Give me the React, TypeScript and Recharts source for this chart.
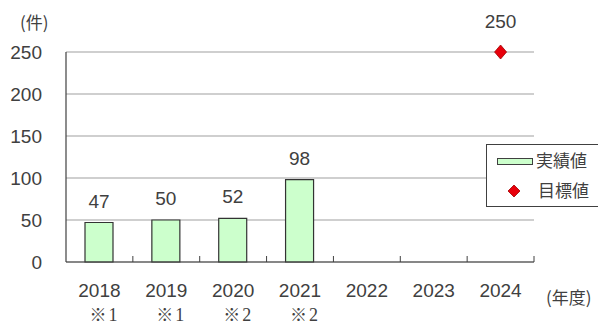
import React from 'react';
import { ComposedChart, Bar, Line, XAxis, YAxis, CartesianGrid, LabelList } from 'recharts';

const years = ['2018', '2019', '2020', '2021', '2022', '2023', '2024'];
const notes = ['1', '1', '2', '2', '', '', ''];
const actual = [47, 50, 52, 98, null, null, null];
const target = [null, null, null, null, null, null, 250];
const yTicks = [0, 50, 100, 150, 200, 250];

const data = years.map((year, i) => ({ year, note: notes[i], actual: actual[i], target: target[i] }));

const W = 598;
const H = 327;
const LEFT = 66;
const RIGHT = 64;
const BAND = (W - LEFT - RIGHT) / years.length;
const FONT = '"Noto Sans CJK JP", "Liberation Sans", sans-serif';
const NUM = '"Liberation Sans", Arial, sans-serif';
const TEXT = '#404040';

const XTick = (props: any) => {
  const { x, y, payload, index } = props;
  return (
    <g>
      <line x1={x + BAND / 2} x2={x + BAND / 2} y1={y} y2={y - 6} stroke="#404040" strokeWidth={1} />
      <text x={x} y={y + 35} textAnchor="middle" fill={TEXT} fontSize={19} fontFamily={NUM}>{payload.value}</text>
      {notes[index] ? (
        <text x={x + 4} y={y + 59} textAnchor="middle" fill={TEXT}>
          <tspan fontFamily={FONT} fontSize={17}>※</tspan>
          <tspan fontFamily='"Liberation Serif", serif' fontSize={18} dx={2}>{notes[index]}</tspan>
        </text>
      ) : null}
    </g>
  );
};

const Diamond = (props: any) => {
  const { cx, cy, payload } = props;
  if (cy == null || payload.target == null) return <g />;
  return <polygon points={`${cx},${cy - 7} ${cx + 6},${cy} ${cx},${cy + 7} ${cx - 6},${cy}`} fill="#e8000b" stroke="#a00000" strokeWidth={0.8} />;
};

const LegendBox = () => (
  <svg width={120} height={64} style={{ display: 'block' }}>
    <rect x={0.5} y={0.5} width={130} height={62} fill="#fff" stroke="#404040" />
    <rect x={11.5} y={14.5} width={35} height={6} fill="#ccffcc" stroke="#404040" />
    <text x={50} y={23} fill={TEXT} fontSize={17} fontFamily={FONT}>実績値</text>
    <polygon points="28,41 34,47 28,53 22,47" fill="#e8000b" stroke="#a00000" strokeWidth={0.8} />
    <text x={52} y={53} fill={TEXT} fontSize={17} fontFamily={FONT}>目標値</text>
  </svg>
);

export default function App() {
  return (
    <div style={{ position: 'relative', width: W, height: H, overflow: 'hidden', background: '#fff' }}>
      <style>{`body{margin:0}`}</style>
      <ComposedChart width={W} height={H} data={data} margin={{ top: 52, right: RIGHT, bottom: 0, left: 0 }}>
        <CartesianGrid vertical={false} stroke="#a0a0a0" strokeWidth={1.2} />
        <XAxis dataKey="year" height={65} axisLine={{ stroke: '#404040', strokeWidth: 1.2 }} tickLine={false} tickSize={0} tickMargin={0} tick={<XTick />} interval={0} />
        <YAxis
          width={LEFT}
          domain={[0, 250]}
          ticks={yTicks}
          axisLine={{ stroke: '#404040', strokeWidth: 1.2 }}
          tickLine={false}
          tickSize={0}
          tickMargin={24}
          tick={{ fill: TEXT, fontSize: 19, fontFamily: NUM }}
        />
        <Bar dataKey="actual" barSize={28} fill="#ccffcc" stroke="#333333" strokeWidth={1.2} isAnimationActive={false}>
          <LabelList dataKey="actual" position="top" offset={15} fill={TEXT} fontSize={19} fontFamily={NUM} />
        </Bar>
        <Line dataKey="target" stroke="none" dot={<Diamond />} activeDot={false} isAnimationActive={false}>
          <LabelList dataKey="target" position="top" offset={24} fill={TEXT} fontSize={19} fontFamily={NUM} />
        </Line>
      </ComposedChart>
      <div style={{ position: 'absolute', left: 20, top: 10, fontSize: 17, lineHeight: '24px', color: TEXT, fontFamily: FONT }}>(件)</div>
      <div style={{ position: 'absolute', left: 546, top: 285, fontSize: 17, lineHeight: '24px', color: TEXT, fontFamily: FONT }}>(年度)</div>
      <div style={{ position: 'absolute', left: 486, top: 144 }}>
        <LegendBox />
      </div>
    </div>
  );
}
